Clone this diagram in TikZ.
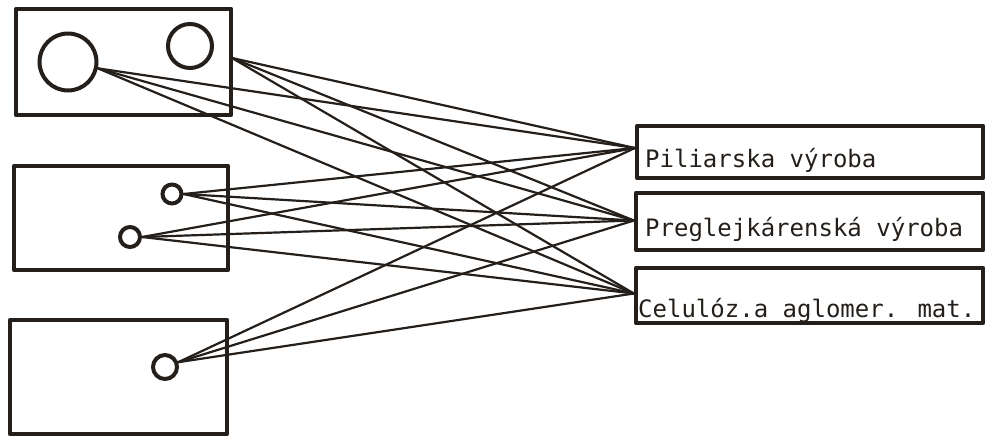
\documentclass[tikz,border=0pt]{standalone}
\usepackage{fontspec}
\newfontfamily\typewriter{DejaVu Sans Mono}
\definecolor{inkc}{RGB}{36,31,26}
\begin{document}
\begin{tikzpicture}[x=1pt,y=-1pt,
  frame/.style={draw=inkc, line width=4.2pt, line join=round, inner sep=0pt, rectangle},
  ring/.style={circle, draw=inkc, line width=4pt, inner sep=0pt},
  link/.style={draw=inkc, line width=2.2pt, line cap=round},
  lbl/.style={font=\typewriter\fontsize{24}{24}\selectfont, text=inkc, anchor=base west, inner sep=0pt}]
\useasboundingbox (0,0) rectangle (986,440);

% source boxes on the left
\node[frame, minimum width=215pt, minimum height=106pt] (b1) at (123.5,62) {};
\node[frame, minimum width=214pt, minimum height=104pt] (b2) at (121,218) {};
\node[frame, minimum width=217pt, minimum height=114pt] (b3) at (118.5,377) {};

% outlets
\node[ring, minimum size=57pt] (big) at (68,62) {};
\node[ring, minimum size=44pt] (sm) at (190,46) {};
\node[ring, minimum size=19pt] (u2) at (172,194) {};
\node[ring, minimum size=20pt] (l2) at (130,237) {};
\node[ring, minimum size=24pt] (c3) at (165,367) {};

% destination boxes on the right
\node[frame, minimum width=346pt, minimum height=52pt] (pil) at (810,152) {};
\node[frame, minimum width=347pt, minimum height=57pt] (pre) at (809.5,221.5) {};
\node[frame, minimum width=347pt, minimum height=55pt] (cel) at (809.5,295.5) {};
\node[lbl] (tpil) at (645,167) {Piliarska výroba};
\node[lbl] (tpre) at (645,236) {Preglejkárenská výroba};
\node[lbl] (tcel) at (638,317) {Celulóz.a aglomer. mat.};

% start and end points of the connectors
\coordinate (a1) at (big.-12);
\coordinate (a2) at (232,58);
\coordinate (a3) at (u2.east);
\coordinate (a4) at (l2.east);
\coordinate (a5) at (c3.20);
\coordinate (tP) at ([yshift=4pt]pil.west);
\coordinate (tR) at ([yshift=1pt]pre.west);
\coordinate (tC) at ([yshift=2pt]cel.west);

% every outlet goes to every destination
\foreach \s in {a1,a2,a3,a4,a5}
  \foreach \t in {tP,tR,tC}
    \draw[link] (\s) -- (\t);
\end{tikzpicture}
\end{document}
